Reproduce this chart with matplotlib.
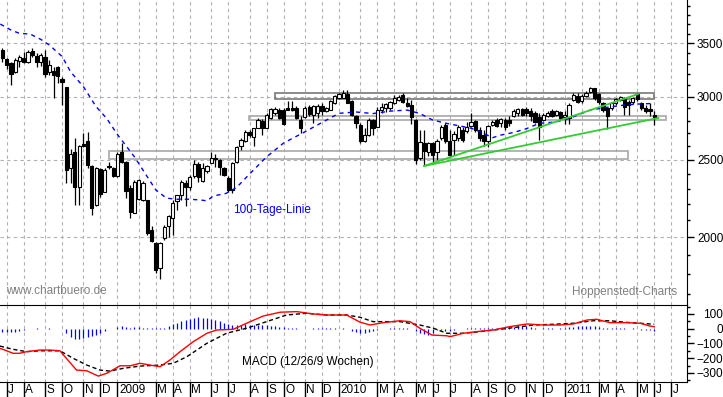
import numpy as np
import pandas as pd
import matplotlib
matplotlib.use("Agg")
import matplotlib.pyplot as plt
from matplotlib.patches import Rectangle
from matplotlib.ticker import FixedLocator, NullFormatter, FuncFormatter

plt.rcParams['font.family'] = ['Liberation Sans', 'DejaVu Sans']

# weekly candles, week -1 = 27.06.2008 ... week 152 = 03.06.2011
opens = [3433, 3342, 3303, 3224, 3328, 3352, 3319, 3426, 3374, 3312,
         3362, 3224, 3230, 3265, 3162, 3086, 2446, 2558, 2314, 2614,
         2640, 2457, 2196, 2434, 2282, 2457, 2441, 2388, 2558, 2487,
         2304, 2147, 2232, 2227, 2224, 2040, 1970, 1829, 1995, 2066,
         2113, 2223, 2260, 2341, 2311, 2388, 2469, 2353, 2418, 2480,
         2515, 2503, 2441, 2371, 2293, 2487, 2603, 2641, 2708, 2670,
         2745, 2797, 2745, 2822, 2861, 2887, 2890, 2900, 2900, 2900,
         2805, 2830, 2911, 2846, 2860, 2917, 2880, 2891, 2945, 2986,
         2990, 3023, 2965, 2838, 2765, 2641, 2686, 2805, 2752, 2887,
         2902, 2902, 2949, 2972, 3015, 2948, 2929, 2805, 2513, 2623,
         2560, 2623, 2560, 2661, 2765, 2642, 2648, 2660, 2725, 2720,
         2756, 2797, 2725, 2686, 2642, 2765, 2805, 2785, 2805, 2805,
         2841, 2865, 2895, 2895, 2876, 2862, 2826, 2805, 2838, 2876,
         2846, 2867, 2830, 2822, 2972, 3009, 2963, 3009, 3045, 3075,
         3021, 2943, 2900, 2900, 2943, 2972, 2986, 2957, 2957, 3021,
         2943, 2900, 2895, 2846]
highs = [3450, 3352, 3319, 3352, 3384, 3416, 3433, 3450, 3400, 3400,
         3433, 3335, 3265, 3280, 3172, 3090, 2580, 2660, 2610, 2700,
         2711, 2464, 2453, 2441, 2441, 2488, 2453, 2558, 2622, 2492,
         2326, 2360, 2367, 2350, 2227, 2068, 1975, 1975, 2072, 2133,
         2227, 2260, 2360, 2360, 2394, 2499, 2487, 2476, 2464, 2558,
         2542, 2510, 2453, 2387, 2487, 2603, 2661, 2725, 2725, 2745,
         2820, 2810, 2860, 2903, 2910, 2903, 2900, 2966, 2966, 2920,
         2838, 2918, 2930, 2930, 2935, 2944, 2910, 2972, 3015, 3035,
         3060, 3059, 2972, 2846, 2778, 2740, 2818, 2812, 2915, 2944,
         2950, 2966, 3015, 3015, 3035, 2986, 2972, 2810, 2725, 2725,
         2636, 2636, 2655, 2765, 2778, 2725, 2715, 2765, 2751, 2790,
         2862, 2805, 2751, 2725, 2765, 2805, 2818, 2820, 2818, 2834,
         2895, 2903, 2903, 2910, 2903, 2876, 2862, 2862, 2876, 2895,
         2887, 2880, 2876, 2944, 3030, 3030, 3020, 3050, 3089, 3080,
         3030, 2957, 2915, 2957, 2990, 3010, 3000, 2972, 2995, 3032,
         2957, 2929, 2944, 2875]
lows = [3318, 3253, 3103, 3215, 3270, 3303, 3303, 3368, 3270, 3280,
        3178, 3194, 2986, 3120, 2929, 2337, 2340, 2196, 2196, 2595,
        2440, 2133, 2190, 2249, 2276, 2434, 2383, 2383, 2476, 2239,
        2112, 2145, 2225, 2220, 2013, 1975, 1804, 1772, 1984, 2003,
        2013, 2164, 2227, 2190, 2293, 2372, 2348, 2348, 2406, 2476,
        2453, 2394, 2388, 2282, 2271, 2481, 2572, 2632, 2672, 2600,
        2740, 2686, 2740, 2812, 2850, 2812, 2765, 2887, 2880, 2810,
        2699, 2825, 2840, 2780, 2820, 2846, 2870, 2887, 2940, 2980,
        2985, 2943, 2838, 2740, 2628, 2630, 2680, 2686, 2748, 2860,
        2870, 2890, 2940, 2965, 2943, 2915, 2776, 2474, 2500, 2464,
        2525, 2487, 2499, 2648, 2628, 2522, 2535, 2640, 2636, 2700,
        2750, 2712, 2640, 2600, 2597, 2757, 2750, 2750, 2725, 2757,
        2826, 2840, 2835, 2840, 2800, 2780, 2648, 2797, 2826, 2830,
        2835, 2805, 2775, 2777, 2960, 2950, 2950, 3000, 3030, 2972,
        2937, 2873, 2730, 2887, 2930, 2960, 2846, 2846, 2940, 2960,
        2890, 2860, 2835, 2765]
closes = [3351, 3287, 3208, 3335, 3362, 3319, 3416, 3384, 3319, 3384,
          3200, 3287, 3190, 3181, 3130, 2429, 2542, 2314, 2603, 2605,
          2464, 2175, 2441, 2267, 2429, 2448, 2388, 2542, 2487, 2288,
          2153, 2348, 2360, 2341, 2025, 1981, 1820, 1970, 2058, 2125,
          2206, 2260, 2348, 2311, 2383, 2469, 2383, 2441, 2457, 2511,
          2506, 2452, 2394, 2293, 2476, 2597, 2648, 2708, 2686, 2741,
          2805, 2745, 2846, 2895, 2895, 2822, 2773, 2891, 2887, 2825,
          2739, 2903, 2855, 2917, 2917, 2875, 2900, 2966, 3006, 3023,
          3030, 2948, 2846, 2784, 2642, 2686, 2805, 2739, 2887, 2915,
          2937, 2957, 2986, 3000, 2957, 2920, 2830, 2500, 2636, 2567,
          2628, 2535, 2643, 2751, 2642, 2535, 2694, 2750, 2648, 2751,
          2790, 2725, 2663, 2642, 2757, 2790, 2757, 2810, 2746, 2784,
          2876, 2895, 2846, 2860, 2835, 2793, 2751, 2846, 2862, 2840,
          2876, 2822, 2850, 2929, 3015, 2957, 3009, 3030, 3075, 2986,
          2957, 2887, 2835, 2943, 2980, 3000, 2914, 2929, 2986, 2980,
          2900, 2880, 2880, 2818]

# 100-Tage-Linie (read at week positions)
ma_weeks = [-1.5, 1, 3, 5.5, 8, 10, 13, 15, 18, 21, 23.5, 26, 30, 33, 35, 37.5,
            40, 43, 45.5, 47, 48.5, 51.5, 54, 57, 61, 65, 70, 74, 78, 82, 86,
            90, 94, 97, 100, 103, 106, 109, 112, 114, 116, 119, 122, 125, 129,
            132, 137, 141, 145, 148, 152]
ma_values = [3700, 3637, 3602, 3595, 3540, 3483, 3370, 3224, 3089, 2915, 2817,
             2690, 2522, 2382, 2293, 2239, 2232, 2232, 2227, 2222, 2253, 2270,
             2310, 2400, 2522, 2625, 2711, 2785, 2860, 2871, 2858, 2878, 2887,
             2858, 2805, 2780, 2760, 2740, 2700, 2665, 2686, 2706, 2736, 2778,
             2790, 2817, 2887, 2910, 2929, 2937, 2943]

# MACD (12/26/9 Wochen)
macd_weeks = [-1.6, 0, 1.5, 3, 4.7, 7.8, 10.2, 12.5, 14, 16.4, 18.8, 21.5, 23.5,
              26.6, 29, 31.3, 33.6, 36, 38.3, 40.7, 43.8, 47, 49.3, 53.2, 56.3,
              60.2, 64.2, 68.1, 72, 75.1, 79.8, 82.9, 85.3, 88.4, 92.3, 94.7, 97,
              99.8, 103.3, 104.1, 107.2, 110.3, 114.2, 118.1, 122.1, 126, 129.9,
              133, 136.2, 138.5, 141.6, 145.5, 148.7, 151, 152]
macd_values = [-133, -150, -167, -167, -156, -145, -145, -150, -201, -281, -286,
               -322, -303, -252, -252, -235, -247, -258, -213, -156, -88, -31,
               -9, -4, 37, 86, 112, 116, 100, 93, 93, 45, 25, 41, 54, 48, 3, -43,
               -48, -54, -31, -20, -9, 14, 32, 25, 25, 32, 59, 64, 41, 41, 37,
               18, 14]
signal_weeks = [-1.6, 1.5, 4.7, 7.8, 12.5, 15.6, 18.8, 21.9, 24.2, 27.4, 31.3, 36,
                39.1, 42.3, 47, 51.6, 56.3, 61, 65.7, 70.4, 75.1, 79.8, 82.9, 86,
                89.2, 92.3, 97, 100.2, 103.3, 107.2, 111.1, 115.8, 119.7, 123.6,
                128.3, 133, 137.7, 141.6, 145.5, 148.7, 152]
signal_values = [-118, -140, -156, -150, -150, -201, -247, -281, -288, -269, -254,
                 -247, -235, -190, -99, -31, 3, 48, 93, 105, 93, 93, 78, 48, 48,
                 48, 25, 3, -31, -31, -20, -4, 10, 25, 30, 37, 54, 54, 43, 37, 30]
hist_values = [-20, -25, -25, -22, -18, -12, -1, 0, 2, 1,
               -1, 2, 0, -1, -3, -30, -55, -72, -68, -62,
               -57, -50, -45, -30, -15, -5, 0, 12, 15, 10,
               8, 10, 12, 8, 6, 2, 2, 3, 8, 20,
               30, 40, 50, 58, 65, 72, 77, 76, 72, 66,
               58, 50, 40, 30, 26, 22, 28, 30, 28, 26,
               25, 24, 22, 20, 16, 12, 10, 6, 3, 2,
               1, 0, 1, 2, 3, 2, 3, 2, 2, 1,
               2, -5, -15, -25, -30, -30, -25, -15, -8, -3,
               -2, 3, 4, 5, 4, 3, -5, -18, -28, -35,
               -40, -30, -12, -10, -15, -18, -10, -3, 0, 2,
               3, 4, 3, 2, 3, 4, 5, 6, 8, 10,
               14, 18, 20, 16, 10, 4, -2, 2, 3, 2,
               1, 3, 6, 10, 12, 15, 18, 20, 20, 18,
               12, 5, 3, 2, 3, 4, 2, 1, 2, -3,
               -8, -10, -12, -15]

# boxes (week from, week to, low, high) and trend lines
boxes = [(23.9, 145.9, 2507, 2566, '#a8a8a8'),
         (56.9, 154.8, 2805, 2837, '#a8a8a8'),
         (63.1, 152.0, 2977, 3030, '#787878')]
trend_weeks = [(98.0, 148.2), (98.0, 153.0)]
trend_prices = [(2457, 3023), (2457, 2822)]

weeks = np.arange(len(closes)) - 1
calendar = pd.date_range('2008-06-27', '2011-07-29', freq='W-FRI')
cal_idx = np.arange(len(calendar)) - 1
month_starts = [(cal_idx[k], calendar[k]) for k in range(1, len(calendar))
                if calendar[k].month != calendar[k - 1].month]

W, H = 723, 397
fig = plt.figure(figsize=(W / 100, H / 100), dpi=100)
ax = fig.add_axes([0, 1 - 305 / H, 687.3 / W, 305 / H])
axm = fig.add_axes([0, 1 - 381.7 / H, 687.3 / W, 76.7 / H], sharex=ax)

grid_kw = dict(color='#b4aeb6', lw=0.8, dashes=(3, 3), zorder=0)
for i, d in month_starts:
    ax.axvline(i, **grid_kw)
    axm.axvline(i, **grid_kw)
for p in [2000, 2500, 3000, 3500]:
    ax.axhline(p, **grid_kw)

# candles
o = np.array(opens); c = np.array(closes)
up = c >= o
ax.vlines(weeks, lows, highs, color='black', lw=0.9, zorder=3)
ax.bar(weeks[up], np.abs(c - o)[up], bottom=np.minimum(o, c)[up], width=0.75,
       color='white', edgecolor='black', lw=0.8, zorder=4)
ax.bar(weeks[~up], np.abs(c - o)[~up], bottom=np.minimum(o, c)[~up], width=0.75,
       color='black', edgecolor='black', lw=0.8, zorder=4)

ax.plot(ma_weeks, ma_values, color='#0000ff', lw=1.0, dashes=(3, 3), zorder=5)

for x0, x1, lo, hi, col in boxes:
    ax.add_patch(Rectangle((x0, lo), x1 - x0, hi - lo, fill=False,
                           edgecolor=col, lw=1.2, zorder=2))
for tw, tp in zip(trend_weeks, trend_prices):
    ax.plot(tw, tp, color='#33cc33', lw=1.3, zorder=6)

ax.set_yscale('log')
ax.set_ylim(1645, 3966)
ax.set_xlim(-1.57, 159.77)
ax.yaxis.tick_right()
ax.yaxis.set_major_locator(FixedLocator([2000, 2500, 3000, 3500]))
ax.yaxis.set_minor_locator(FixedLocator([v for v in range(1700, 4000, 100) if v % 500]))
ax.yaxis.set_major_formatter(FuncFormatter(lambda v, p: '%d' % v))
ax.yaxis.set_minor_formatter(NullFormatter())
ax.tick_params(axis='y', which='major', direction='out', length=5, width=1,
               labelsize=8.5, pad=2)
ax.tick_params(axis='y', which='minor', direction='out', length=2.5, width=1)
ax.tick_params(axis='x', which='both', bottom=False, labelbottom=False)
for s in ['top', 'left', 'bottom']:
    ax.spines[s].set_visible(False)

# MACD panel
axm.vlines(weeks, 0, hist_values, color='#0000ff', lw=0.9, zorder=2)
axm.plot(signal_weeks, signal_values, color='black', lw=1.0, dashes=(3, 2), zorder=3)
axm.plot(macd_weeks, macd_values, color='#ff0000', lw=1.0, zorder=4)
axm.set_ylim(-360, 161)
axm.yaxis.tick_right()
axm.yaxis.set_major_locator(FixedLocator([-300, -200, -100, 0, 100]))
axm.yaxis.set_minor_locator(FixedLocator([-350, -250, -150, -50, 50, 150]))
axm.tick_params(axis='y', which='major', direction='out', length=5, width=1,
                labelsize=8.5, pad=21)
axm.tick_params(axis='y', which='minor', direction='out', length=2.5, width=1)
for lab in axm.get_yticklabels():
    lab.set_horizontalalignment('right')
axm.spines['left'].set_visible(False)

tick_pos = [i for i, d in month_starts if d.month != 2]
axm.set_xticks(tick_pos)
axm.tick_params(axis='x', direction='out', length=11, width=1, labelbottom=False)
initials = 'JFMAMJJASOND'
for i, d in month_starts:
    if d.month == 2:
        continue
    lab = str(d.year) if d.month == 1 else initials[d.month - 1]
    axm.text(i + 0.35, -0.108, lab, transform=axm.get_xaxis_transform(),
             ha='left', va='center', fontsize=8.5)

fig.text(233 / W, 1 - 209.5 / H, '100-Tage-Linie', color='#0000ff', fontsize=8.5,
         va='center', ha='left')
fig.text(6.5 / W, 1 - 291.5 / H, 'www.chartbuero.de', color='#808080', fontsize=8.5,
         va='center', ha='left')
fig.text(572 / W, 1 - 292 / H, 'Hoppenstedt-Charts', color='#808080', fontsize=8.5,
         va='center', ha='left')
fig.text(241.7 / W, 1 - 361.5 / H, 'MACD (12/26/9 Wochen)', color='black',
         fontsize=8.5, va='center', ha='left')

fig.savefig('out.png', dpi=100)
